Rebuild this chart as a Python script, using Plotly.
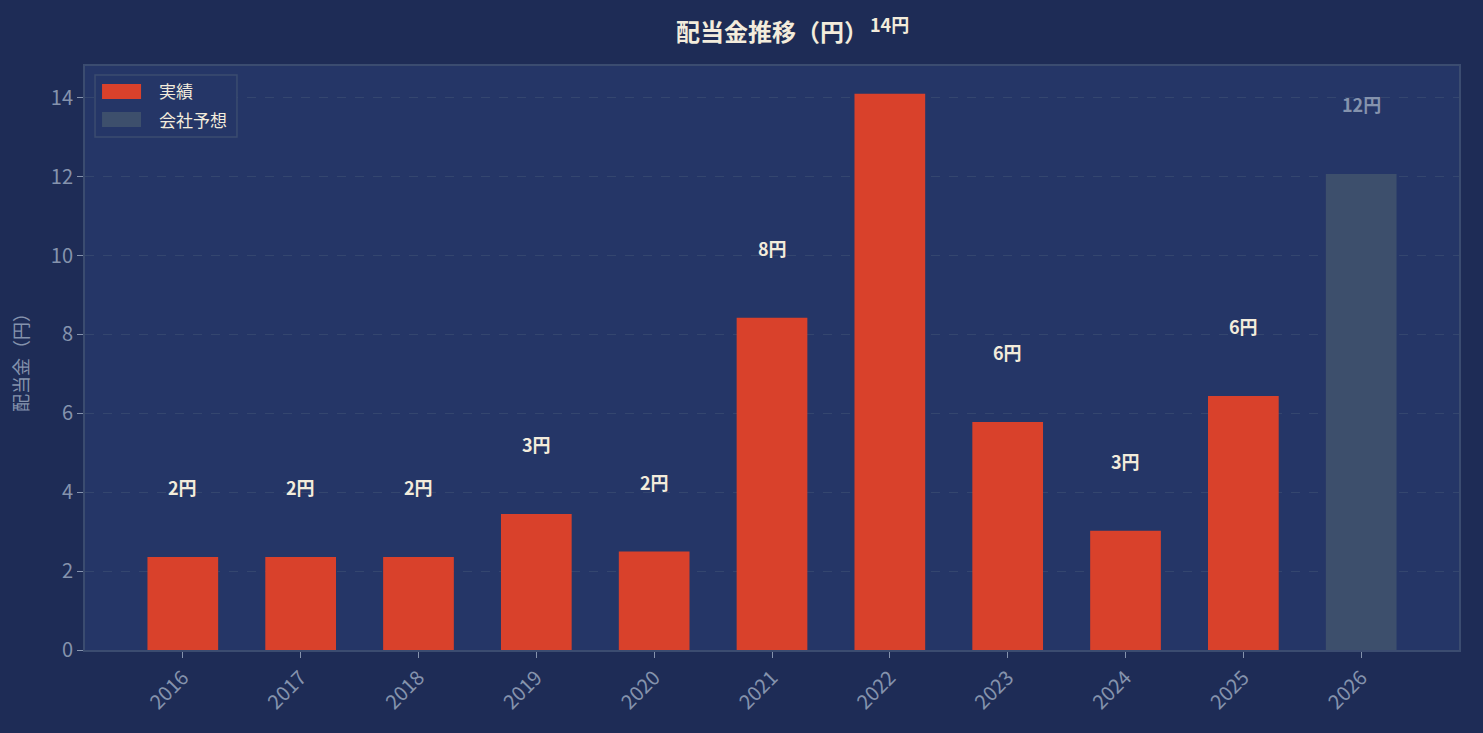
import plotly.graph_objects as go

# データ
years = ["2016", "2017", "2018", "2019", "2020", "2021", "2022", "2023", "2024", "2025", "2026"]
dividends = [2.36, 2.36, 2.36, 3.45, 2.50, 8.42, 14.10, 5.78, 3.02, 6.44, 12.07]
is_forecast = [False] * 10 + [True]
legend_names = ["実績", "会社予想"]

actual_x = [y for y, f in zip(years, is_forecast) if not f]
actual_y = [v for v, f in zip(dividends, is_forecast) if not f]
fc_x = [y for y, f in zip(years, is_forecast) if f]
fc_y = [v for v, f in zip(dividends, is_forecast) if f]

PAPER = "#1e2c56"
PLOT = "#253667"
RED = "#d9412b"
GRAY_BAR = "#3d4f6c"
TICK = "#8593ad"
TEXT = "#f3ecdc"
EDGE = "#3b4c70"
FONT = "Noto Sans CJK JP"

YMAX = max(dividends) * 1.05

fig = go.Figure()
fig.add_trace(go.Bar(x=actual_x, y=actual_y, name=legend_names[0], marker_color=RED,
                     marker_line_width=0, width=0.6))
fig.add_trace(go.Bar(x=fc_x, y=fc_y, name=legend_names[1], marker_color=GRAY_BAR,
                     marker_line_width=0, width=0.6))

# 値ラベル（棒の上に最大値の12.5%だけ離して表示、軸外でも消えないよう paper 座標）
offset = max(dividends) * 0.125
for i, (v, f) in enumerate(zip(dividends, is_forecast)):
    fig.add_annotation(x=i, y=(v + offset) / YMAX, text=f"<b>{v:.0f}円</b>", showarrow=False,
                       xref="x", yref="paper", yanchor="middle",
                       font=dict(size=18, color=TICK if f else TEXT, family=FONT))

# 凡例（横長の色見本を使うため手描き）
fig.add_shape(type="rect", xref="paper", yref="paper", x0=0.0073, x1=0.1106,
              y0=0.8784, y1=0.9846, line=dict(color=EDGE, width=1.5), fillcolor=PLOT)
for (y0, y1, ty), name, col in zip([(0.9435, 0.9692, 0.9572), (0.8955, 0.9212, 0.9092)],
                                  legend_names, [RED, GRAY_BAR]):
    fig.add_shape(type="rect", xref="paper", yref="paper", x0=0.0124, x1=0.0408,
                  y0=y0, y1=y1, line_width=0, fillcolor=col)
    fig.add_annotation(xref="paper", yref="paper", x=0.0524, y=ty, text=name,
                       showarrow=False, xanchor="left", yanchor="middle",
                       font=dict(size=17, color=TEXT, family=FONT))

fig.update_layout(
    width=1483, height=733,
    paper_bgcolor=PAPER, plot_bgcolor=PLOT,
    font=dict(family=FONT, color=TICK),
    margin=dict(l=85, r=24, t=66, b=83),
    barmode="overlay",
    showlegend=False,
    title=dict(text="<b>配当金推移（円）</b>", x=0.5, xanchor="center", xref="paper",
               y=0.956, yanchor="middle", font=dict(size=24, color=TEXT, family=FONT)),
)
fig.update_xaxes(
    type="category", range=[-0.83, 10.83], tickangle=-45,
    tickfont=dict(size=20, color=TICK), ticks="outside", ticklen=6, tickcolor=TICK,
    showline=True, linecolor=EDGE, linewidth=2, mirror=True, showgrid=False,
)
fig.update_yaxes(
    range=[0, YMAX], dtick=2, tickfont=dict(size=20, color=TICK),
    ticks="outside", ticklen=6, tickcolor=TICK,
    showline=True, linecolor=EDGE, linewidth=2, mirror=True,
    showgrid=True, gridcolor="#34466f", griddash="dash", gridwidth=1, zeroline=False,
    title=dict(text="配当金（円）", font=dict(size=18, color=TICK), standoff=17),
)

fig.write_html("out.html", config={"displayModeBar": False},
               post_script="document.body.style.margin='0';")
